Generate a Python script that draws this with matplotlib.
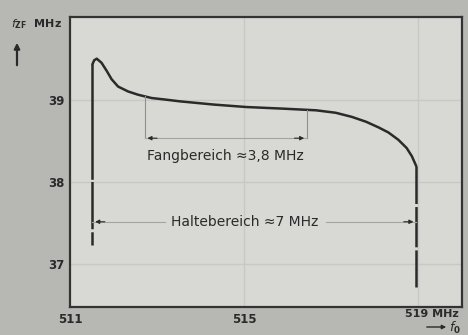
import matplotlib
matplotlib.use("Agg")
import matplotlib.pyplot as plt
import numpy as np

plt.rcParams["lines.scale_dashes"] = False

# Data
f0_mhz = [511.51, 511.55, 511.61, 511.72, 511.84, 511.95, 512.10, 512.33, 512.56, 512.87,
          513.20, 513.51, 514.30, 515.05, 515.90, 516.65, 517.10, 517.47, 517.80, 518.09,
          518.31, 518.54, 518.73, 518.85, 518.95]
fzf_mhz = [39.44, 39.49, 39.51, 39.46, 39.36, 39.26, 39.17, 39.11, 39.07, 39.03,
           39.01, 38.99, 38.95, 38.92, 38.90, 38.88, 38.85, 38.80, 38.74, 38.67,
           38.61, 38.52, 38.42, 38.32, 38.20]
hold_range = [511.51, 518.95]     # Haltebereich
capture_range = [512.71, 516.44]  # Fangbereich
hold_bottom = [37.24, 36.72]
capture_level = 38.54
hold_level = 37.52
x_ticks = [511, 515, 519]
x_tick_labels = ["511", "515", ""]
y_ticks = [37, 38, 39]
y_tick_labels = ["37", "38", "39"]

fig = plt.figure(figsize=(4.68, 3.35), dpi=100)
fig.patch.set_facecolor("#b7b8b4")
ax = fig.add_axes([0.150, 0.0836, 0.837, 0.866])
ax.set_facecolor("#d8d9d5")
ax.set_xlim(511, 520)
ax.set_ylim(36.48, 40.02)

ink = "#2a2a2a"
# grid
for x in [515, 519]:
    ax.axvline(x, color="#c8c9c5", lw=1.0, zorder=0)
for y in y_ticks:
    ax.axhline(y, color="#c8c9c5", lw=1.0, zorder=0)

# main curve
ax.plot(f0_mhz, fzf_mhz, color=ink, lw=1.8, solid_capstyle="round", solid_joinstyle="round")

# vertical hold-range edges (dashes in points)
ax.plot([hold_range[0], hold_range[0]], [fzf_mhz[0], hold_bottom[0]], color=ink, lw=1.8,
        dashes=(83, 1.6, 34, 2.2, 20, 2))
ax.plot([hold_range[1], hold_range[1]], [fzf_mhz[-1], hold_bottom[1]], color=ink, lw=1.8,
        dashes=(27, 2.2, 29, 2.2, 40, 2))

# capture range thin verticals and line
cap_y = [np.interp(capture_range[0], f0_mhz, fzf_mhz), np.interp(capture_range[1], f0_mhz, fzf_mhz)]
for cx, cy in zip(capture_range, cap_y):
    ax.plot([cx, cx], [cy, capture_level], color="#8f908c", lw=0.8)
ax.plot(capture_range, [capture_level, capture_level], color="#a3a4a0", lw=0.8)
ax.annotate("", xy=(capture_range[0], capture_level), xytext=(capture_range[0] + 0.35, capture_level),
            arrowprops=dict(arrowstyle="-|>", color=ink, lw=0.8, mutation_scale=6))
ax.annotate("", xy=(capture_range[1], capture_level), xytext=(capture_range[1] - 0.35, capture_level),
            arrowprops=dict(arrowstyle="-|>", color=ink, lw=0.8, mutation_scale=6))
ax.text(sum(capture_range) / 2 - 0.02, capture_level - 0.22, "Fangbereich ≈3,8 MHz",
        ha="center", va="center", fontsize=10, color=ink)

# hold range line
mid = sum(hold_range) / 2 - 0.21
ax.plot([hold_range[0], mid - 1.85], [hold_level, hold_level], color="#a3a4a0", lw=0.8)
ax.plot([mid + 1.85, hold_range[1]], [hold_level, hold_level], color="#a3a4a0", lw=0.8)
ax.annotate("", xy=(hold_range[0], hold_level), xytext=(hold_range[0] + 0.35, hold_level),
            arrowprops=dict(arrowstyle="-|>", color=ink, lw=0.8, mutation_scale=6))
ax.annotate("", xy=(hold_range[1], hold_level), xytext=(hold_range[1] - 0.35, hold_level),
            arrowprops=dict(arrowstyle="-|>", color=ink, lw=0.8, mutation_scale=6))
ax.text(mid, hold_level, "Haltebereich ≈7 MHz", ha="center", va="center", fontsize=10, color=ink)

# axes styling
for s in ax.spines.values():
    s.set_color("#333333")
    s.set_linewidth(1.6)
ax.set_xticks(x_ticks)
ax.set_xticklabels(x_tick_labels, fontsize=8.5, fontweight="bold", color=ink)
ax.set_yticks(y_ticks)
ax.set_yticklabels(y_tick_labels, fontsize=8.5, fontweight="bold", color=ink)
ax.tick_params(length=0, pad=4)

# axis labels
fig.text(432 / 468, 1 - 314 / 335, "519 MHz", ha="center", va="center", fontsize=8, fontweight="bold", color=ink)
fig.text(455 / 468, 1 - 328 / 335, r"$\mathit{f}_{\mathbf{0}}$", ha="center", va="center", fontsize=9, color=ink)
ax.annotate("", xy=(449 / 468, 1 - 327 / 335), xytext=(424 / 468, 1 - 327 / 335), xycoords="figure fraction",
            textcoords="figure fraction", annotation_clip=False,
            arrowprops=dict(arrowstyle="-|>", color=ink, lw=1.0, mutation_scale=6))
fig.text(37 / 468, 1 - 24 / 335, r"$\mathit{f}_{\mathbf{ZF}}$  MHz", ha="center", va="center", fontsize=8,
         fontweight="bold", color=ink)
ax.annotate("", xy=(17 / 468, 1 - 40 / 335), xytext=(17 / 468, 1 - 68 / 335), xycoords="figure fraction",
            textcoords="figure fraction", annotation_clip=False,
            arrowprops=dict(arrowstyle="-|>", color=ink, lw=1.6, mutation_scale=8))

fig.savefig("out.png", dpi=100, facecolor=fig.get_facecolor())
